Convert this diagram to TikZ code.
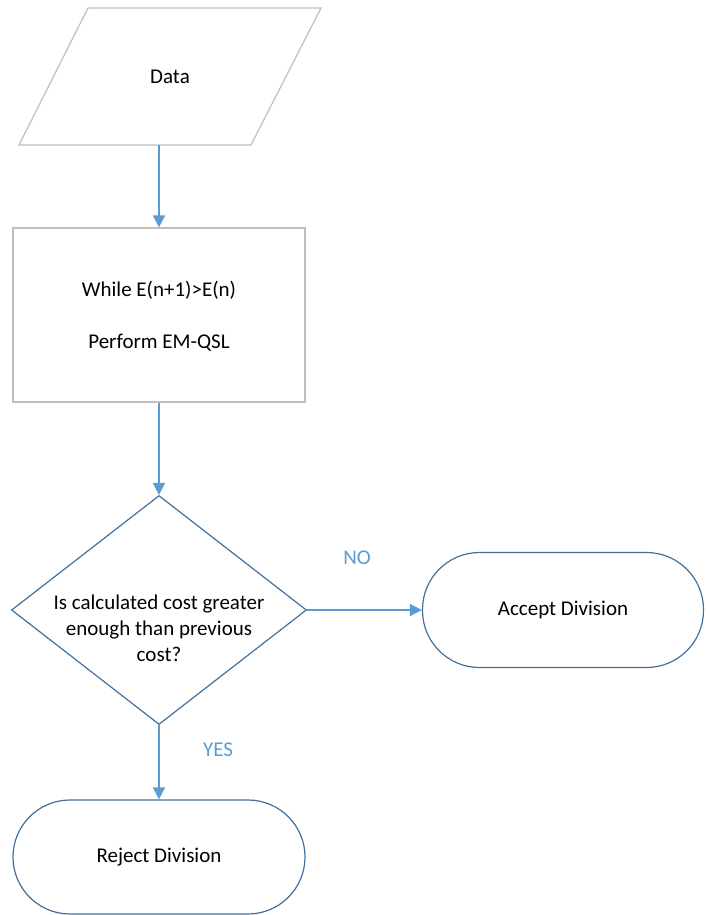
\documentclass[tikz,border=0pt]{standalone}
\usepackage{fontspec}
\setmainfont{Carlito}
\usetikzlibrary{shapes.geometric,arrows.meta}
\definecolor{grayline}{HTML}{BFBFBF}
\definecolor{blueline}{HTML}{41719C}
\definecolor{arrowblue}{HTML}{5B9BD5}
\begin{document}
\begin{tikzpicture}[x=1pt,y=-1pt,
  every node/.style={font=\fontsize{21}{26}\selectfont, text=black},
  graybox/.style={draw=grayline, line width=1.2pt, fill=white, minimum width=292pt, minimum height=174pt},
  stadium/.style={draw=blueline, line width=1.2pt, fill=white, rounded corners=57pt},
  decision/.style={diamond, draw=blueline, line width=1.2pt, fill=white, inner sep=0pt},
  flow/.style={draw=arrowblue, line width=1.6pt, -{Triangle[length=12pt,width=12pt]}},
  lbl/.style={text=arrowblue}]
\useasboundingbox (0,0) rectangle (705,915);
% Data (parallelogram)
\draw[grayline, line width=1.2pt, fill=white] (88,8) -- (321,8) -- (251,145) -- (19,145) -- cycle;
\node[minimum width=233pt, minimum height=137pt, inner sep=0pt] (data) at (170,76.5) {Data};
% process box
\node[graybox] (proc) at (159,315) {};
\node at (159,290) {While E(n+1)>E(n)};
\node at (159,343) {Perform EM-QSL};
% decision
\node[decision, minimum width=295pt, minimum height=229pt] (dec) at (159,610) {};
\node[align=center] (dectext) at (159,628) {Is calculated cost greater\\enough than previous\\cost?};
% terminals
\node[stadium, minimum width=281pt, minimum height=115pt] (acc) at (563,610) {Accept Division};
\node[stadium, minimum width=292pt, minimum height=114pt] (rej) at (159,857) {Reject Division};
% connectors
\draw[flow] (proc.north |- data.south) -- (proc.north);
\draw[flow] (proc.south) -- (dec.north);
\draw[flow] (dec.east) -- (acc.west);
\draw[flow] (dec.south) -- (rej.north);
% labels
\node[lbl] (no) at (357,558) {NO};
\node[lbl] (yes) at (218,750) {YES};
\end{tikzpicture}
\end{document}
